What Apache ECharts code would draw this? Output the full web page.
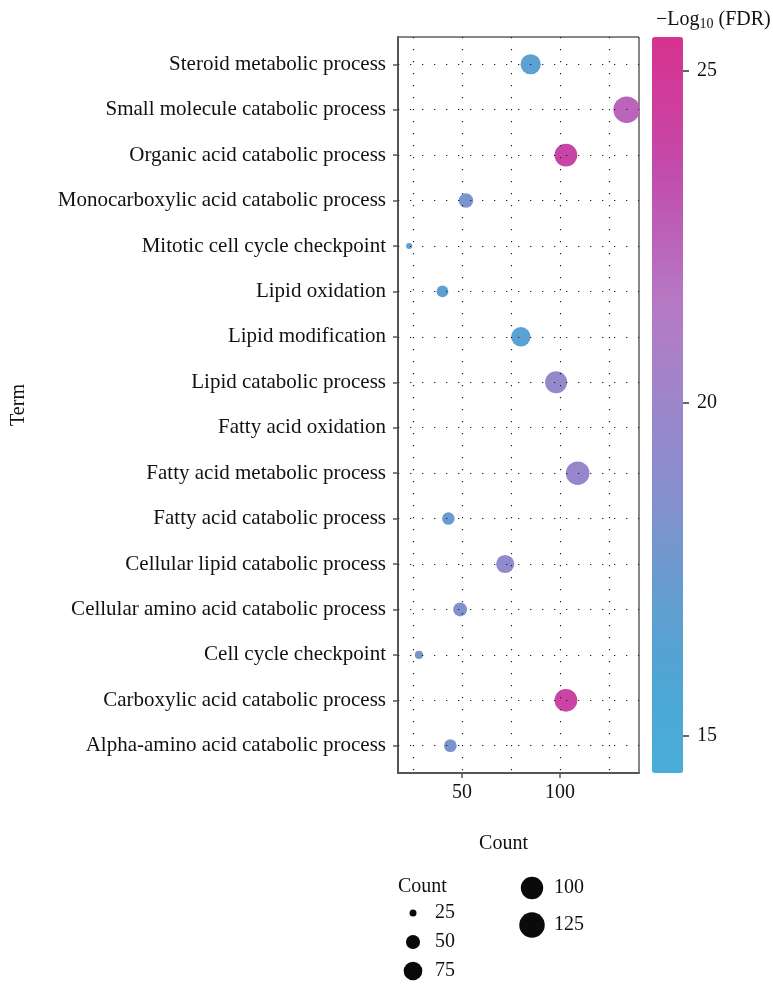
<!DOCTYPE html>
<html>
<head>
<meta charset="utf-8">
<script src="https://cdn.jsdelivr.net/npm/echarts@6/dist/echarts.min.js"></script>
<style>
html,body{margin:0;padding:0;background:#fff;}
#chart{width:773px;height:985px;}
</style>
</head>
<body>
<div id="chart"></div>
<script>
// ---- data ----
const terms = [
  'Steroid metabolic process',
  'Small molecule catabolic process',
  'Organic acid catabolic process',
  'Monocarboxylic acid catabolic process',
  'Mitotic cell cycle checkpoint',
  'Lipid oxidation',
  'Lipid modification',
  'Lipid catabolic process',
  'Fatty acid oxidation',
  'Fatty acid metabolic process',
  'Fatty acid catabolic process',
  'Cellular lipid catabolic process',
  'Cellular amino acid catabolic process',
  'Cell cycle checkpoint',
  'Carboxylic acid catabolic process',
  'Alpha-amino acid catabolic process'
];
const counts = [85, 134, 103, 52, 23, 40, 80, 98, null, 109, 43, 72, 49, 28, 103, 44];
const logFDR = [16.6, 22.4, 23.9, 18.1, 17.0, 16.8, 16.5, 19.5, null, 19.7, 17.3, 19.2, 18.3, 18.1, 24.0, 18.1];
const xTickValues = [50, 100];
const xGridValues = [25, 50, 75, 100, 125];
const colorTickValues = [15, 20, 25];
const colorMin = 14.44, colorMax = 25.5;
const legendCounts = [25, 50, 75, 100, 125];

// ---- style helpers ----
const FONT = '"Liberation Serif", "DejaVu Serif", serif';
const barColors = ['#4aaed8','#4ba8d5','#58a2d1','#6b9acf','#8390cd','#9389cb',
                   '#a582c8','#b57ac4','#bb62b8','#c24cab','#cf3d9c','#d6338f'];
function sizeOf(c){ return Math.sqrt(49 + 6 * (c - 25)); }

const pts = [];
counts.forEach((c, i) => { if (c != null) pts.push([c, i, logFDR[i], terms[i]]); });
const termIdx = terms.map((t, i) => i);

// legend layout
const legendPos = [[413, 913], [413, 942], [413, 971], [532, 888], [532, 925]];
const graphics = [{
  type: 'text', left: 398, top: 877,
  style: { text: 'Count', font: '20px ' + FONT, fill: '#111' }
}];
legendCounts.forEach((c, i) => {
  const [cx, cy] = legendPos[i];
  graphics.push({ type: 'circle', shape: { cx: cx, cy: cy, r: sizeOf(c) / 2 }, style: { fill: '#0a0a0a' } });
  graphics.push({ type: 'text', x: cx + 22, y: cy, style: { text: String(c), font: '20px ' + FONT, fill: '#111', verticalAlign: 'middle' } });
});

const chart = echarts.init(document.getElementById('chart'), null, { renderer: 'canvas' });
const option = {
  animation: false,
  textStyle: { fontFamily: FONT },
  title: {
    text: '{a|−Log}{s|10}{a| (FDR)}',
    left: 651, top: 3,
    textStyle: { fontWeight: 'normal', rich: {
      a: { fontSize: 20, color: '#111', fontFamily: FONT, fontWeight: 'normal' },
      s: { fontSize: 14, color: '#111', fontFamily: FONT, fontWeight: 'normal', padding: [9, 0, 0, 0] }
    } }
  },
  grid: [
    { left: 398, right: 134, top: 37, bottom: 212, show: true, borderColor: '#111', borderWidth: 1 },
    { left: 652, width: 31, top: 37, height: 736 }
  ],
  xAxis: [
    { type: 'value', gridIndex: 0, min: 17.3, max: 140.3,
      name: 'Count', nameLocation: 'middle', nameGap: 61,
      nameTextStyle: { fontSize: 20, color: '#111', fontFamily: FONT, padding: [0, 30, 0, 0] },
      axisLine: { show: true, onZero: false, lineStyle: { color: '#555', width: 2 } },
      axisTick: { show: true, customValues: xTickValues, length: 5, lineStyle: { color: '#555', width: 1.5 } },
      axisLabel: { customValues: xTickValues, fontSize: 20, color: '#111', margin: 10, fontFamily: FONT },
      splitLine: { show: false } },
    { type: 'value', gridIndex: 1, show: false, min: 0, max: 1 }
  ],
  yAxis: [
    { type: 'value', gridIndex: 0, inverse: true, min: -0.6, max: 15.6,
      name: 'Term', nameLocation: 'middle', nameGap: 369, nameRotate: 90,
      nameTextStyle: { fontSize: 20, color: '#111', fontFamily: FONT },
      axisLine: { show: true, onZero: false, lineStyle: { color: '#555', width: 2 } },
      axisTick: { show: true, customValues: termIdx, length: 5, lineStyle: { color: '#555', width: 1.5 } },
      axisLabel: { customValues: termIdx, formatter: v => terms[Math.round(v)], fontSize: 21, color: '#111', margin: 12, fontFamily: FONT },
      splitLine: { show: false } },
    { type: 'value', gridIndex: 1, position: 'right', min: colorMin, max: colorMax,
      axisLine: { show: true, onZero: false, lineStyle: { color: 'rgba(0,0,0,0)', width: 0 } },
      axisTick: { show: true, inside: false, customValues: colorTickValues, length: 6, lineStyle: { color: '#333', width: 1.5 } },
      axisLabel: { customValues: colorTickValues, fontSize: 20, color: '#111', margin: 14, fontFamily: FONT },
      splitLine: { show: false } }
  ],
  visualMap: {
    type: 'continuous', seriesIndex: 0, dimension: 2,
    min: colorMin, max: colorMax, calculable: false, hoverLink: false,
    inRange: { color: barColors },
    left: 652, top: 37, itemWidth: 31, itemHeight: 736, padding: 0, orient: 'vertical', z: 1
  },
  graphic: graphics,
  series: [
    { type: 'scatter', xAxisIndex: 0, yAxisIndex: 0, data: pts,
      symbolSize: v => sizeOf(v[0]), itemStyle: { opacity: 1 }, z: 2 },
    { type: 'scatter', xAxisIndex: 0, yAxisIndex: 0, data: [], z: 5,
      markLine: { silent: true, symbol: 'none', label: { show: false }, animation: false,
        lineStyle: { type: [1.3, 10.7], color: '#222', width: 1.2 },
        emphasis: { disabled: true },
        data: xGridValues.map(v => ({ xAxis: v })).concat(termIdx.map(i => ({ yAxis: i }))) } },
    { type: 'scatter', xAxisIndex: 1, yAxisIndex: 1, data: [] }
  ]
};
chart.setOption(option);
</script>
</body>
</html>
